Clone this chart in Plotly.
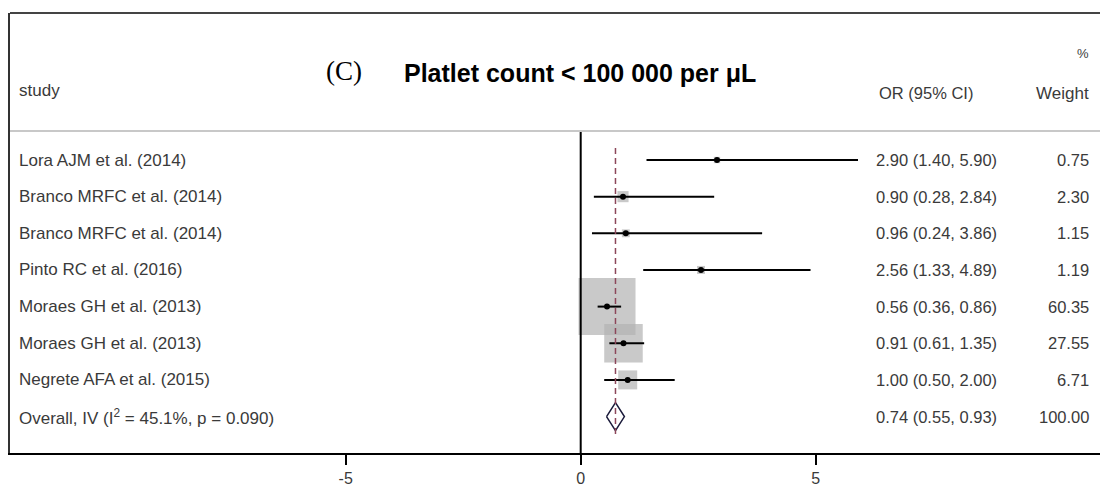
import math
import plotly.graph_objects as go

# ---------------- data ----------------
studies = ["Lora AJM et al. (2014)", "Branco MRFC et al. (2014)", "Branco MRFC et al. (2014)",
           "Pinto RC et al. (2016)", "Moraes GH et al. (2013)", "Moraes GH et al. (2013)",
           "Negrete AFA et al. (2015)"]
odds = [2.90, 0.90, 0.96, 2.56, 0.56, 0.91, 1.00]
ci_low = [1.40, 0.28, 0.24, 1.33, 0.36, 0.61, 0.50]
ci_high = [5.90, 2.84, 3.86, 4.89, 0.86, 1.35, 2.00]
weights = [0.75, 2.30, 1.15, 1.19, 60.35, 27.55, 6.71]
overall_label = "Overall, IV (I<sup>2</sup> = 45.1%, p = 0.090)"
overall_or = 0.74
overall_low = 0.55
overall_high = 0.93
overall_weight = 100.00
tick_vals = [-5, 0, 5]
tick_labels = ["-5", "0", "5"]

# ---------------- layout geometry (pixels) ----------------
W, H = 1100, 490
X0, SX = 580.7, 47.0      # pixel of x=0, pixels per unit
Y0, SY = 160.0, 36.65     # pixel of row 0, pixels per row
LEFT, TOP, BOTTOM = 10, 13, 453


def px_x(p):
    return (p - X0) / SX


def px_y(p):
    return (p - Y0) / SY


rows = list(range(len(studies)))
ov_row = len(studies)
FONT = "Liberation Sans, Arial, sans-serif"
TXT = "#3a3a3a"

fig = go.Figure()

# weight squares
max_w = max(weights)
fig.add_trace(go.Scatter(
    x=odds, y=rows, mode="markers",
    marker=dict(symbol="square", size=[57 * math.sqrt(w / max_w) for w in weights],
                color="rgb(178,178,178)", line=dict(width=0)),
    hoverinfo="skip"))

# CI lines
cx, cy = [], []
for r, lo, hi in zip(rows, ci_low, ci_high):
    cx += [lo, hi, None]
    cy += [r, r, None]
fig.add_trace(go.Scatter(x=cx, y=cy, mode="lines",
                         line=dict(color="black", width=2), hoverinfo="skip"))

# point estimates
fig.add_trace(go.Scatter(x=odds, y=rows, mode="markers",
                         marker=dict(symbol="circle", size=6, color="black"),
                         hoverinfo="skip"))

# overall diamond
dh = 14 / SY
fig.add_trace(go.Scatter(
    x=[overall_low, overall_or, overall_high, overall_or, overall_low],
    y=[ov_row, ov_row - dh, ov_row, ov_row + dh, ov_row],
    mode="lines", fill="toself", fillcolor="white",
    line=dict(color="#1a1a3a", width=1.5), hoverinfo="skip"))

# overall dashed line
fig.add_trace(go.Scatter(
    x=[overall_or, overall_or], y=[px_y(148), px_y(436)], mode="lines",
    line=dict(color="rgb(140,70,90)", width=1.5, dash="6px,4px"), hoverinfo="skip"))

# zero line, header separator, top border
fig.add_shape(type="line", x0=0, x1=0, y0=px_y(131), y1=px_y(BOTTOM),
              line=dict(color="black", width=2))
fig.add_shape(type="line", xref="paper", x0=0, x1=1, y0=px_y(131), y1=px_y(131),
              line=dict(color="#c8c8c8", width=2))
fig.add_shape(type="line", xref="paper", yref="paper", x0=0, x1=1, y0=1, y1=1,
              line=dict(color="#444444", width=2))

# text annotations
ann = []
for r, name, o, lo, hi, w in zip(rows, studies, odds, ci_low, ci_high, weights):
    ann.append(dict(x=px_x(17), y=r, text=name, xanchor="left", yanchor="middle",
                    showarrow=False, font=dict(family=FONT, size=17, color=TXT)))
    ann.append(dict(x=px_x(874), y=r, text=f"{o:.2f} ({lo:.2f}, {hi:.2f})",
                    xanchor="left", yanchor="middle", showarrow=False,
                    font=dict(family=FONT, size=16.5, color=TXT)))
    ann.append(dict(x=px_x(1091), y=r, text=f"{w:.2f}", xanchor="right", yanchor="middle",
                    showarrow=False, font=dict(family=FONT, size=16.5, color=TXT)))
ann.append(dict(x=px_x(17), y=ov_row, text=overall_label, xanchor="left", yanchor="middle",
                showarrow=False, font=dict(family=FONT, size=17, color=TXT)))
ann.append(dict(x=px_x(874), y=ov_row,
                text=f"{overall_or:.2f} ({overall_low:.2f}, {overall_high:.2f})",
                xanchor="left", yanchor="middle", showarrow=False,
                font=dict(family=FONT, size=16.5, color=TXT)))
ann.append(dict(x=px_x(1091), y=ov_row, text=f"{overall_weight:.2f}", xanchor="right",
                yanchor="middle", showarrow=False, font=dict(family=FONT, size=16.5, color=TXT)))

# headers
ann.append(dict(x=px_x(17), y=px_y(90), text="study", xanchor="left", yanchor="middle",
                showarrow=False, font=dict(family=FONT, size=17, color=TXT)))
ann.append(dict(x=px_x(877), y=px_y(93), text="OR (95% CI)", xanchor="left", yanchor="middle",
                showarrow=False, font=dict(family=FONT, size=16.5, color=TXT)))
ann.append(dict(x=px_x(1091), y=px_y(93), text="Weight", xanchor="right", yanchor="middle",
                showarrow=False, font=dict(family=FONT, size=17, color=TXT)))
ann.append(dict(x=px_x(1091), y=px_y(53), text="%", xanchor="right", yanchor="middle",
                showarrow=False, font=dict(family=FONT, size=13, color=TXT)))
ann.append(dict(x=px_x(344), y=px_y(71), text="(C)", xanchor="center", yanchor="middle",
                showarrow=False,
                font=dict(family="Liberation Serif, Times New Roman, serif", size=27,
                          color="black")))
ann.append(dict(x=px_x(580), y=px_y(73), text="<b>Platlet count &lt; 100 000 per μL</b>",
                xanchor="center", yanchor="middle", showarrow=False,
                font=dict(family=FONT, size=25, color="black")))

fig.update_layout(
    width=W, height=H,
    margin=dict(l=LEFT, r=0, t=TOP, b=H - BOTTOM, pad=0),
    plot_bgcolor="white", paper_bgcolor="white",
    showlegend=False,
    annotations=ann,
    xaxis=dict(range=[px_x(LEFT), px_x(W)], showgrid=False, zeroline=False,
               showline=True, linecolor="black", linewidth=2,
               tickmode="array", tickvals=tick_vals, ticktext=tick_labels,
               ticks="outside", ticklen=10, tickwidth=2, tickcolor="black",
               tickfont=dict(family=FONT, size=16, color=TXT)),
    yaxis=dict(range=[px_y(BOTTOM), px_y(TOP)], showgrid=False, zeroline=False,
               showline=True, linecolor="#333333", linewidth=2,
               showticklabels=False, ticks=""),
)

fig.write_html("out.html",
               config={"displayModeBar": False, "staticPlot": True},
               post_script="document.body.style.margin='0';document.body.style.padding='0';"
                           "document.body.style.overflow='hidden';")
